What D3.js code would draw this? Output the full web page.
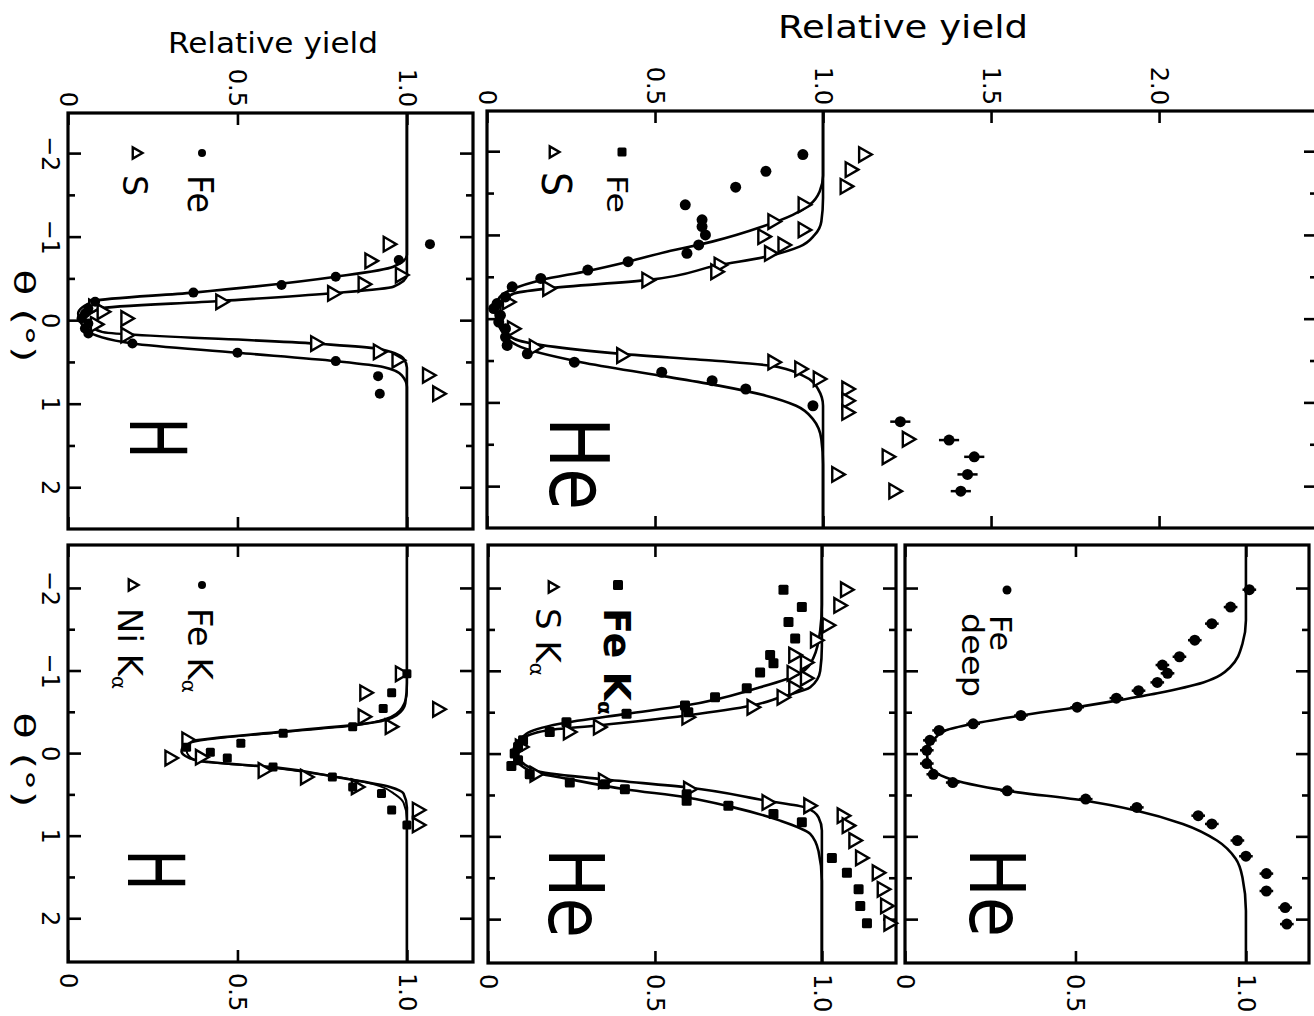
<!DOCTYPE html>
<html><head><meta charset="utf-8">
<script src="https://cdn.jsdelivr.net/npm/d3@7"></script>
<style>
body{margin:0;background:#fff}
svg{display:block}
text{font-family:"DejaVu Sans",sans-serif;fill:#000}
</style>
</head><body>
<svg id="c" width="1314" height="1016"></svg>
<script>
// ---------- data: [theta (deg), relative yield, (optional yield error)] ----------
const thetaMajor = [-2, -1, 0, 1, 2];
const thetaMinor = [-1.5, -0.5, 0.5, 1.5];
const yieldTicksSmall = [0, 0.5, 1.0];
const yieldTicksWide = [0, 0.5, 1.0, 1.5, 2.0];

// Top-left panel (H beam): Fe and S
const hTopFe = [[-0.91,1.068],[-0.72,0.976],[-0.52,0.79],[-0.42,0.63],[-0.33,0.37],[-0.22,0.08],[-0.14,0.06],[-0.08,0.05],[-0.02,0.04],[0.04,0.06],[0.1,0.05],[0.16,0.06],[0.28,0.19],[0.39,0.50],[0.49,0.79],[0.67,0.915],[0.88,0.92]];
const hTopS = [[-0.91,0.944],[-0.71,0.89],[-0.54,0.98],[-0.43,0.87],[-0.32,0.78],[-0.22,0.45],[-0.16,0.075],[-0.1,0.1],[-0.02,0.17],[0.05,0.08],[0.18,0.17],[0.28,0.73],[0.38,0.915],[0.48,0.97],[0.66,1.06],[0.88,1.09]];
const hTopFeFit = [[-2.48,1],[-0.78,1],[-0.64,0.96],[-0.52,0.79],[-0.33,0.37],[-0.23,0.08],[-0.08,0.03],[0.12,0.055],[0.28,0.19],[0.39,0.5],[0.49,0.79],[0.56,0.93],[0.66,0.985],[0.8,1],[2.5,1]];
const hTopSFit = [[-2.48,1],[-0.54,1],[-0.40,0.96],[-0.32,0.77],[-0.23,0.45],[-0.14,0.095],[0,0.05],[0.14,0.10],[0.28,0.73],[0.34,0.91],[0.46,0.99],[0.57,1],[2.5,1]];

// Top-wide panel (He beam): Fe and S
const heTopFe = [[-1.96,0.94],[-1.76,0.83],[-1.57,0.74],[-1.36,0.59],[-1.18,0.64],[-1.10,0.64],[-1.0,0.65],[-0.88,0.63],[-0.78,0.595],[-0.68,0.42],[-0.58,0.30],[-0.48,0.16],[-0.38,0.075],[-0.26,0.055],[-0.18,0.03],[-0.12,0.02],[-0.04,0.04],[0.04,0.035],[0.12,0.055],[0.22,0.055],[0.32,0.06],[0.42,0.12],[0.52,0.26],[0.64,0.52],[0.74,0.67],[0.84,0.77],[1.04,0.97],[1.23,1.23,0.03],[1.45,1.375,0.03],[1.65,1.45,0.03],[1.86,1.43,0.03],[2.06,1.41,0.03]];
const heTopS = [[-1.96,1.12],[-1.78,1.08],[-1.58,1.065],[-1.36,0.94],[-1.16,0.85],[-1.06,0.94],[-0.98,0.82],[-0.88,0.88],[-0.78,0.84],[-0.64,0.69],[-0.56,0.68],[-0.46,0.475],[-0.36,0.18],[-0.2,0.06],[0.12,0.075],[0.34,0.14],[0.44,0.40],[0.52,0.85],[0.60,0.93],[0.72,0.985],[0.84,1.07],[0.98,1.07],[1.12,1.07],[1.44,1.25],[1.65,1.19],[1.86,1.04],[2.06,1.21]];
const heTopFeFit = [[-2.48,1],[-1.71,1],[-1.52,0.99],[-1.36,0.96],[-1.24,0.91],[-1.10,0.82],[-0.92,0.67],[-0.80,0.535],[-0.68,0.42],[-0.57,0.30],[-0.46,0.16],[-0.36,0.08],[-0.24,0.035],[-0.08,0.025],[0.12,0.04],[0.32,0.09],[0.52,0.28],[0.68,0.515],[0.80,0.69],[0.92,0.83],[1.04,0.92],[1.20,0.97],[1.44,0.995],[1.74,1],[2.5,1]];
const heTopSFit = [[-2.48,1],[-1.44,1],[-1.16,0.995],[-1.0,0.975],[-0.86,0.93],[-0.74,0.83],[-0.64,0.69],[-0.46,0.475],[-0.36,0.18],[-0.30,0.08],[-0.16,0.04],[0.08,0.04],[0.24,0.08],[0.42,0.40],[0.50,0.67],[0.56,0.84],[0.68,0.94],[0.84,0.985],[1.04,1],[2.5,1]];

// Bottom-left panel (H beam): Fe K-alpha and Ni K-alpha
const hBotFe = [[-0.96,1.0],[-0.73,0.955],[-0.54,0.93],[-0.32,0.84],[-0.24,0.635],[-0.12,0.51],[-0.07,0.35],[-0.01,0.42],[0.06,0.47],[0.17,0.605],[0.29,0.78],[0.41,0.84],[0.49,0.925],[0.69,0.955],[0.87,1.0]];
const hBotNi = [[-0.96,0.98],[-0.73,0.875],[-0.53,1.09],[-0.44,0.87],[-0.32,0.95],[-0.16,0.35],[0.05,0.39],[0.06,0.30],[0.21,0.575],[0.29,0.70],[0.41,0.85],[0.69,1.03],[0.87,1.03]];
const hBotFit1 = [[-2.52,1],[-0.85,1],[-0.6,0.995],[-0.46,0.97],[-0.37,0.90],[-0.26,0.635],[-0.13,0.35],[-0.02,0.335],[0.09,0.38],[0.17,0.605],[0.29,0.79],[0.41,0.95],[0.49,0.99],[0.66,1],[2.53,1]];
const hBotFit2 = [[-2.52,1],[-0.75,1],[-0.55,0.985],[-0.42,0.94],[-0.33,0.84],[-0.25,0.62],[-0.12,0.36],[-0.03,0.35],[0.08,0.37],[0.18,0.61],[0.3,0.81],[0.4,0.92],[0.5,0.965],[0.6,0.99],[0.8,1],[2.53,1]];

// Bottom-middle panel (He beam): Fe K-alpha and S K-alpha
const heBotFe = [[-1.98,0.885],[-1.77,0.94],[-1.59,0.90],[-1.39,0.92],[-1.19,0.845],[-1.09,0.855],[-0.98,0.815],[-0.79,0.775],[-0.68,0.68],[-0.58,0.59],[-0.50,0.60],[-0.48,0.415],[-0.38,0.235],[-0.26,0.185],[-0.16,0.105],[-0.08,0.09],[0,0.08],[0.08,0.09],[0.15,0.07],[0.25,0.125],[0.35,0.245],[0.37,0.35],[0.43,0.41],[0.49,0.595],[0.57,0.595],[0.63,0.72],[0.73,0.855],[0.83,0.94],[1.26,1.03],[1.44,1.075],[1.64,1.11],[1.84,1.115],[2.05,1.135]];
const heBotS = [[-1.98,1.07],[-1.79,1.05],[-1.55,1.015],[-1.37,0.98],[-1.19,0.915],[-1.10,0.95],[-0.97,0.91],[-0.91,0.95],[-0.79,0.915],[-0.68,0.88],[-0.56,0.79],[-0.44,0.595],[-0.32,0.33],[-0.26,0.24],[-0.08,0.096],[0.25,0.14],[0.33,0.345],[0.43,0.60],[0.59,0.835],[0.63,0.96],[0.75,1.06],[0.87,1.075],[1.05,1.095],[1.26,1.115],[1.44,1.165],[1.64,1.18],[1.84,1.19],[2.05,1.20]];
const heBotFeFit = [[-2.52,1],[-1.8,1],[-1.49,0.995],[-1.16,0.975],[-0.97,0.935],[-0.79,0.805],[-0.58,0.59],[-0.48,0.415],[-0.36,0.215],[-0.24,0.115],[-0.01,0.075],[0.21,0.125],[0.31,0.245],[0.43,0.41],[0.53,0.595],[0.65,0.735],[0.81,0.875],[0.97,0.965],[1.18,0.99],[1.54,1],[2.53,1]];
const heBotSFit = [[-2.52,1],[-1.3,1],[-1.0,0.995],[-0.80,0.965],[-0.68,0.875],[-0.58,0.79],[-0.46,0.595],[-0.34,0.33],[-0.28,0.175],[-0.18,0.105],[0,0.087],[0.21,0.145],[0.31,0.345],[0.41,0.60],[0.57,0.835],[0.65,0.95],[0.77,0.99],[0.93,1],[2.53,1]];

// Bottom-right panel (He beam): Fe deep
const heDeepFe = [[-1.98,1.01,0.02],[-1.77,0.955,0.02],[-1.57,0.90,0.02],[-1.37,0.85,0.02],[-1.17,0.805,0.02],[-1.07,0.755,0.02],[-0.97,0.77,0.02],[-0.86,0.74,0.02],[-0.76,0.685,0.02],[-0.67,0.62,0.02],[-0.56,0.505,0.02],[-0.46,0.34,0.02],[-0.36,0.20,0.02],[-0.28,0.10,0.02],[-0.16,0.073,0.02],[-0.04,0.064,0.02],[0.12,0.064,0.02],[0.25,0.083,0.02],[0.35,0.14,0.02],[0.45,0.30,0.02],[0.55,0.53,0.02],[0.65,0.68,0.02],[0.75,0.86,0.02],[0.85,0.90,0.02],[1.05,0.975,0.02],[1.24,1.0,0.02],[1.45,1.06,0.02],[1.66,1.06,0.02],[1.86,1.115,0.02],[2.06,1.12,0.02]];
const heDeepFit = [[-2.52,1],[-1.61,1],[-1.33,0.99],[-1.04,0.953],[-0.86,0.875],[-0.73,0.74],[-0.64,0.62],[-0.56,0.505],[-0.46,0.34],[-0.36,0.20],[-0.28,0.12],[-0.16,0.083],[-0.02,0.064],[0.15,0.073],[0.29,0.12],[0.45,0.30],[0.57,0.53],[0.69,0.68],[0.85,0.815],[1.05,0.915],[1.27,0.97],[1.50,0.99],[1.9,1],[2.53,1]];

// ---------- drawing ----------
const svg = d3.select("#c");

function rtext(g, x, y, str, size, anchor, len, weight) {
  const t = g.append("text").attr("transform", `translate(${x},${y}) rotate(90)`)
    .attr("font-size", size).attr("text-anchor", anchor || "start")
    .attr("font-weight", weight || "normal").text(str);
  if (len) t.attr("textLength", len).attr("lengthAdjust", "spacingAndGlyphs");
  return t;
}

function panel(p) {
  const g = svg.append("g");
  const x = d3.scaleLinear().domain([0, p.ymax]).range([p.x0, p.x1]);
  const y = d3.scaleLinear().domain(p.tdom).range([p.y0, p.y1]);
  const fmt = d => d === 0 ? "0" : d3.format(".1f")(d);

  function styleAxis(a) {
    a.attr("font-size", null).attr("font-family", null);
    a.select(".domain").remove();
    a.selectAll("line").attr("stroke", "#000").attr("stroke-width", 2.6);
    a.selectAll("text").attr("fill", "#000");
  }
  const top = g.append("g").attr("transform", `translate(0,${p.y0})`)
    .call(d3.axisTop(x).tickValues(p.yticks).tickSize(-12).tickSizeOuter(0).tickFormat(p.topLabels ? fmt : ""));
  styleAxis(top);
  top.selectAll("text").attr("x", null).attr("y", null).attr("dy", "0.36em")
    .attr("transform", "translate(0,-6) rotate(90)").attr("text-anchor", "end").attr("font-size", 24);
  const bot = g.append("g").attr("transform", `translate(0,${p.y1})`)
    .call(d3.axisBottom(x).tickValues(p.yticks).tickSize(-12).tickSizeOuter(0).tickFormat(p.botLabels ? fmt : ""));
  styleAxis(bot);
  bot.selectAll("text").attr("x", null).attr("y", null).attr("dy", "0.36em")
    .attr("transform", "translate(0,11) rotate(90)").attr("text-anchor", "start").attr("font-size", 24);
  const lMaj = g.append("g").attr("transform", `translate(${p.x0},0)`)
    .call(d3.axisLeft(y).tickValues(thetaMajor).tickSize(-13).tickFormat(p.thetaLabels ? d3.format("d") : ""));
  styleAxis(lMaj);
  lMaj.selectAll("text").attr("x", null).attr("y", null).attr("dy", null)
    .attr("transform", "translate(-26,0) rotate(90)").attr("text-anchor", "middle").attr("font-size", 24);
  const lMin = g.append("g").attr("transform", `translate(${p.x0},0)`)
    .call(d3.axisLeft(y).tickValues(thetaMinor).tickSize(-7).tickFormat(""));
  styleAxis(lMin);
  const rMaj = g.append("g").attr("transform", `translate(${p.x1},0)`)
    .call(d3.axisRight(y).tickValues(thetaMajor).tickSize(-13).tickFormat(""));
  styleAxis(rMaj);
  const rMin = g.append("g").attr("transform", `translate(${p.x1},0)`)
    .call(d3.axisRight(y).tickValues(thetaMinor).tickSize(-7).tickFormat(""));
  styleAxis(rMin);
  g.append("rect").attr("x", p.x0).attr("y", p.y0).attr("width", p.x1 - p.x0).attr("height", p.y1 - p.y0)
    .attr("fill", "none").attr("stroke", "#000").attr("stroke-width", 3.2);
  return {g, x, y};
}

function fit(P, data, w) {
  const line = d3.line().x(d => P.x(d[1])).y(d => P.y(d[0])).curve(d3.curveMonotoneY);
  P.g.append("path").attr("d", line(data)).attr("fill", "none").attr("stroke", "#000")
    .attr("stroke-width", w || 2.6).attr("stroke-linejoin", "round");
}

function marker(gg, cx, cy, kind, size) {
  if (kind === "circle") {
    gg.append("circle").attr("cx", cx).attr("cy", cy).attr("r", size).attr("fill", "#000");
  } else if (kind === "square") {
    gg.append("rect").attr("x", cx - size).attr("y", cy - size).attr("width", 2 * size).attr("height", 2 * size)
      .attr("rx", 1.5).attr("fill", "#000");
  } else if (kind === "tri") {
    gg.append("path").attr("d", d3.symbol(d3.symbolTriangle, size * size * 2.2)())
      .attr("transform", `translate(${cx},${cy}) rotate(90)`)
      .attr("fill", "#fff").attr("stroke", "#000").attr("stroke-width", 2.4);
  }
}

function dots(P, data, kind, size) {
  const gg = P.g.append("g");
  data.forEach(d => {
    const cx = P.x(d[1]), cy = P.y(d[0]);
    if (d[2]) {
      gg.append("line").attr("x1", P.x(d[1] - d[2])).attr("x2", P.x(d[1] + d[2]))
        .attr("y1", cy).attr("y2", cy).attr("stroke", "#000").attr("stroke-width", 2.5);
    }
    marker(gg, cx, cy, kind, size);
  });
}

const P1 = panel({x0: 68, x1: 473, y0: 113, y1: 529, ymax: 1.195, tdom: [-2.48, 2.5], yticks: yieldTicksSmall, topLabels: true, thetaLabels: true});
const P2 = panel({x0: 487, x1: 1317, y0: 111, y1: 528, ymax: 2.47, tdom: [-2.48, 2.5], yticks: yieldTicksWide, topLabels: true});
const P3 = panel({x0: 68, x1: 473, y0: 545, y1: 962, ymax: 1.195, tdom: [-2.52, 2.53], yticks: yieldTicksSmall, botLabels: true, thetaLabels: true});
const P4 = panel({x0: 488, x1: 896, y0: 545, y1: 963, ymax: 1.222, tdom: [-2.52, 2.53], yticks: yieldTicksSmall, botLabels: true});
const P5 = panel({x0: 905, x1: 1309, y0: 545, y1: 963, ymax: 1.185, tdom: [-2.52, 2.53], yticks: yieldTicksSmall, botLabels: true});

fit(P1, hTopFeFit); fit(P1, hTopSFit);
fit(P2, heTopFeFit); fit(P2, heTopSFit);
fit(P3, hBotFit1); fit(P3, hBotFit2, 2);
fit(P4, heBotFeFit); fit(P4, heBotSFit);
fit(P5, heDeepFit);

dots(P1, hTopS, "tri", 6.5); dots(P1, hTopFe, "circle", 5);
dots(P2, heTopS, "tri", 6.5); dots(P2, heTopFe, "circle", 5.5);
dots(P3, hBotNi, "tri", 6.5); dots(P3, hBotFe, "square", 4.5);
dots(P4, heBotS, "tri", 6.5); dots(P4, heBotFe, "square", 5);
dots(P5, heDeepFe, "circle", 5.5);

// legends
const L = svg.append("g");
marker(L, 202, 153, "circle", 4); marker(L, 136, 153, "tri", 5);
rtext(L, 188, 175, "Fe", 35, "start", 38);
rtext(L, 123, 175, "S", 34, "start", 21);
marker(L, 622, 152, "square", 4.5); marker(L, 553, 152, "tri", 5);
rtext(L, 607, 175, "Fe", 28, "start", 38);
rtext(L, 542, 172, "S", 41, "start", 24);
marker(L, 202, 585, "circle", 4); marker(L, 132, 585, "tri", 5);
{ const t = rtext(L, 188, 608, "Fe K", 34, "start");
  t.append("tspan").attr("font-size", 20).attr("dy", 6).text("α"); }
{ const t = rtext(L, 118, 608, "Ni K", 34, "start");
  t.append("tspan").attr("font-size", 20).attr("dy", 6).text("α"); }
marker(L, 618, 585, "square", 5); marker(L, 552, 587, "tri", 5);
{ const t = rtext(L, 604, 608, "Fe K", 38, "start", null, "bold");
  t.append("tspan").attr("font-size", 20).attr("dy", 6).text("α"); }
{ const t = rtext(L, 536, 608, "S K", 34, "start");
  t.append("tspan").attr("font-size", 20).attr("dy", 6).text("α"); }
marker(L, 1007, 590, "circle", 4.5);
rtext(L, 990, 615, "Fe", 30, "start", 36);
rtext(L, 962, 613, "deep", 30, "start", 84);

// panel labels
rtext(L, 130, 438, "H", 78, "middle", 41);
rtext(L, 550, 417, "He", 82, "start", 93);
rtext(L, 128, 870, "H", 78, "middle", 41);
rtext(L, 549, 848, "He", 76, "start", 90);
rtext(L, 970, 848, "He", 76, "start", 89);

// axis titles
svg.append("text").attr("x", 273).attr("y", 53).attr("text-anchor", "middle").attr("font-size", 29)
  .attr("textLength", 210).attr("lengthAdjust", "spacingAndGlyphs").text("Relative yield");
svg.append("text").attr("x", 903).attr("y", 38).attr("text-anchor", "middle").attr("font-size", 32)
  .attr("textLength", 250).attr("lengthAdjust", "spacingAndGlyphs").text("Relative yield");
rtext(svg, 14, 316, "θ (°)", 28, "middle", 93);
rtext(svg, 14, 760, "θ (°)", 28, "middle", 95);
</script>
</body></html>
